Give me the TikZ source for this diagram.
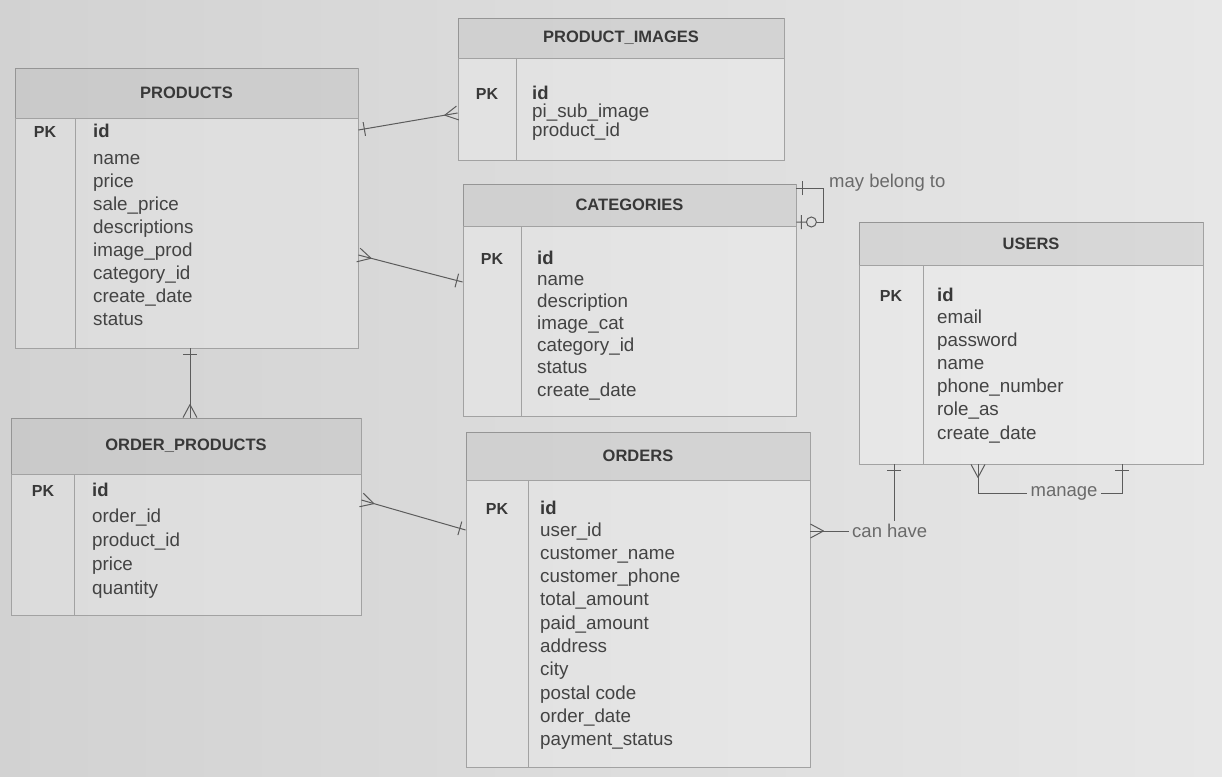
\documentclass[tikz,border=0pt]{standalone}
\usepackage{fontspec}
\setmainfont{Liberation Sans}
\usetikzlibrary{arrows.meta,fit}

% crow's foot: "many" end, fork opens toward the entity
\pgfdeclarearrow{
  name = crow,
  setup code = {
    \pgfarrowssettipend{0pt}
    \pgfarrowssetlineend{0pt}
    \pgfarrowssetbackend{-13pt}
    \pgfarrowshullpoint{0pt}{7pt}
    \pgfarrowshullpoint{0pt}{-7pt}
    \pgfarrowshullpoint{-13pt}{0pt}
  },
  drawing code = {
    \pgfsetdash{}{0pt}
    \pgfsetroundjoin
    \pgfpathmoveto{\pgfqpoint{0pt}{7pt}}
    \pgfpathlineto{\pgfqpoint{-13pt}{0pt}}
    \pgfpathlineto{\pgfqpoint{0pt}{-7pt}}
    \pgfusepathqstroke
  }
}
% "exactly one": a single bar across the line
\pgfdeclarearrow{
  name = one,
  setup code = {
    \pgfarrowssettipend{0pt}
    \pgfarrowssetlineend{0pt}
    \pgfarrowssetbackend{-8pt}
    \pgfarrowshullpoint{-6pt}{7pt}
    \pgfarrowshullpoint{-6pt}{-7pt}
    \pgfarrowshullpoint{0pt}{0pt}
  },
  drawing code = {
    \pgfsetdash{}{0pt}
    \pgfpathmoveto{\pgfqpoint{-6pt}{7pt}}
    \pgfpathlineto{\pgfqpoint{-6pt}{-7pt}}
    \pgfusepathqstroke
  }
}
% "zero or one": bar near the entity, circle further out
\pgfdeclarearrow{
  name = zeroone,
  setup code = {
    \pgfarrowssettipend{0pt}
    \pgfarrowssetlineend{-20pt}
    \pgfarrowssetbackend{-20pt}
    \pgfarrowshullpoint{0pt}{7pt}
    \pgfarrowshullpoint{0pt}{-7pt}
    \pgfarrowshullpoint{-20pt}{5pt}
    \pgfarrowshullpoint{-20pt}{-5pt}
  },
  drawing code = {
    \pgfsetdash{}{0pt}
    \pgfpathmoveto{\pgfqpoint{0pt}{0pt}}
    \pgfpathlineto{\pgfqpoint{-10pt}{0pt}}
    \pgfpathmoveto{\pgfqpoint{-5pt}{7pt}}
    \pgfpathlineto{\pgfqpoint{-5pt}{-7pt}}
    \pgfpathcircle{\pgfqpoint{-15pt}{0pt}}{5pt}
    \pgfusepathqstroke
  }
}

\definecolor{bgL}{HTML}{D2D2D2}
\definecolor{bgR}{HTML}{E7E7E7}
\definecolor{edge}{HTML}{A2A2A2}
\definecolor{fieldink}{HTML}{434343}
\definecolor{titleink}{HTML}{383838}
\definecolor{lblink}{HTML}{6A6A6A}
\definecolor{wirecol}{HTML}{5C5C5C}

\tikzset{
  boxbody/.style={draw=edge, line width=0.8pt, fill=white, fill opacity=0.22, inner sep=0pt},
  headshade/.style={fill=black, fill opacity=0.08},
  edgeline/.style={draw=edge, line width=0.8pt},
  titletext/.style={font=\fontsize{16.5}{20}\selectfont\bfseries, text=titleink, inner sep=0pt},
  pktext/.style={font=\fontsize{16}{20}\selectfont\bfseries, text=titleink, inner sep=0pt},
  idtext/.style={font=\fontsize{18.5}{22}\selectfont\bfseries, text=titleink, inner sep=0pt},
  fieldtext/.style={font=\fontsize{18.8}{22}\selectfont, text=fieldink, inner sep=0pt},
  lbl/.style={font=\fontsize{18.5}{22}\selectfont, text=lblink, inner sep=3pt},
  wire/.style={draw=wirecol, line width=1pt},
}

% entity frame: name, x1, y1, x2, y2, header bottom, key-column divider, title
\newcommand{\erentity}[8]{%
  \node[boxbody, fit={(#2,#3) (#4,#5)}] (#1) {};
  \fill[headshade] (#2,#3) rectangle (#4,#6);
  \draw[edgeline] (#2,#6) -- (#4,#6);
  \draw[edgeline] (#7,#6) -- (#7,#5);
  \node[titletext] (#1-title) at ({(#2+#4)/2},{(#3+#6)/2}) {#8};
}
% attribute rows: name, PK x, field x, id baseline, first field baseline, row step, fields
\newcommand{\erattrs}[7]{%
  \node[pktext, anchor=base] (#1-pk) at (#2,#4) {PK};
  \node[idtext, anchor=base west] (#1-id) at (#3,#4) {id};
  \foreach \f [count=\i from 0] in {#7}
    \node[fieldtext, anchor=base west] (#1-f\i) at (#3,{#5+\i*#6}) {\f};
}

\begin{document}
\begin{tikzpicture}[x=1pt, y=-1pt]
\useasboundingbox (0,0) rectangle (1222,776);
\shade[left color=bgL, right color=bgR] (0,0) rectangle (1222,776);

% entities
\erentity{products}{15}{68}{358}{348}{118}{75}{PRODUCTS}
\erattrs{products}{45}{93}{137}{164}{23}{name,price,sale\_price,descriptions,image\_prod,category\_id,create\_date,status}

\erentity{pimages}{458}{18}{784}{160}{58}{516}{PRODUCT\_IMAGES}
\erattrs{pimages}{487}{532}{99}{117}{19}{pi\_sub\_image,product\_id}

\erentity{categories}{463}{184}{796}{416}{226}{521}{CATEGORIES}
\erattrs{categories}{492}{537}{264}{285}{22.2}{name,description,image\_cat,category\_id,status,create\_date}

\erentity{users}{859}{222}{1203}{464}{265}{923}{USERS}
\erattrs{users}{891}{937}{301}{323}{23.2}{email,password,name,phone\_number,role\_as,create\_date}

\erentity{oproducts}{11}{418}{361}{615}{474}{74}{ORDER\_PRODUCTS}
\erattrs{oproducts}{43}{92}{496}{522}{24}{order\_id,product\_id,price,quantity}

\erentity{orders}{466}{432}{810}{767}{480}{528}{ORDERS}
\erattrs{orders}{497}{540}{514}{536}{23.3}{user\_id,customer\_name,customer\_phone,total\_amount,paid\_amount,address,city,postal code,order\_date,payment\_status}

% relationships
\draw[wire, {one}-{crow}] (products.east |- 0,130) -- (pimages.west |- 0,113);
\draw[wire, {crow}-{one}] (products.east |- 0,255) -- (categories.west |- 0,282);
\draw[wire, {one}-{zeroone}] (categories.east |- 0,188) -- ++(27,0) |- (categories.east |- 0,222);
\node[lbl, anchor=west] (maybelong) at (826,183) {may belong to};
\draw[wire, {one}-{crow}] (products.south -| 190,0) -- (oproducts.north -| 190,0);
\draw[wire, {crow}-{one}] (oproducts.east |- 0,500) -- (orders.west |- 0,530);

\node[lbl, anchor=west] (canhave) at (849,531) {can have};
\draw[wire, {crow}-] (orders.east |- canhave) -- (canhave.west);
\draw[wire, {one}-] (users.south -| 894,0) -- (canhave.north -| 894,0);

\node[lbl] (manage) at (1064,493) {manage};
\draw[wire, {crow}-] (users.south -| 978,0) |- (manage.west);
\draw[wire, {one}-] (users.south -| 1122,0) |- (manage.east);
\end{tikzpicture}
\end{document}
